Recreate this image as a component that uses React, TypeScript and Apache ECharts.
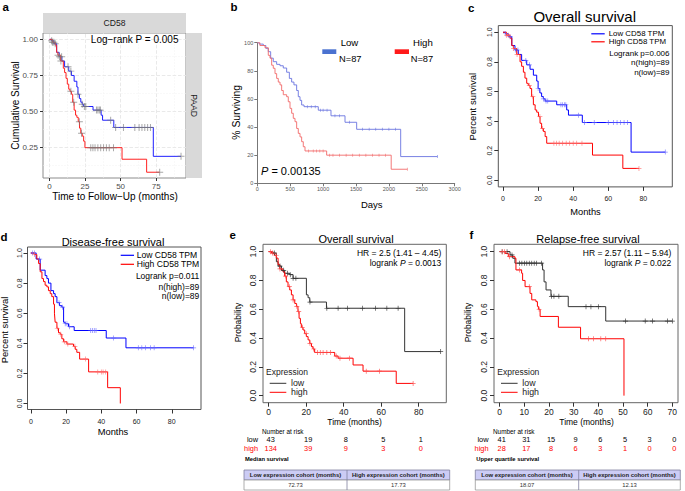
import React, { useEffect, useRef } from "react";
import * as echarts from "echarts";

const FONT = '"Liberation Sans", Arial, Helvetica, sans-serif';

// ---------- Panel a & c : TCGA PAAD overall survival (months, proportion) ----------
const tcgaLow = [[0,1],[1.5,0.99],[3,0.97],[5,0.91],[6.8,0.88],[8.7,0.85],[10.6,0.81],[13.5,0.78],[15.4,0.75],[17.3,0.71],[19.2,0.67],[20,0.62],[21,0.59],[22,0.565],[23,0.55],[24,0.535],[30.6,0.51],[36.3,0.475],[37.3,0.44],[45.2,0.39],[73,0.19],[92.5,0.19]];
const tcgaHigh = [[0,1],[2,0.98],[4,0.96],[5,0.91],[5.9,0.89],[7.8,0.85],[9.7,0.8],[10.6,0.77],[11.6,0.73],[12.5,0.69],[13.5,0.655],[14.4,0.64],[15.4,0.62],[16.3,0.565],[17.3,0.51],[18.3,0.475],[19.2,0.46],[20.2,0.43],[21.1,0.385],[22,0.35],[23,0.33],[24,0.295],[24.9,0.25],[51,0.17],[68.3,0.08],[77.5,0.08]];
const tcgaLowCens = [1.5,4,7,8.5,13,15,20,23,24.5,25.5,33,34,35,35.8,43,46.5,52,60,63,65,67,69,71,92.5];
const tcgaHighCens = [2,3,6,8,15,17,21,22.5,29,30.5,32,34,36,38,40,42,45,77.5];

// ---------- Panel b : days, % surviving ----------
const bLow = [[0,100],[30,99],[91,98],[130,96],[167,93.6],[203,89],[243,86.5],[294,84.6],[345,83.6],[395,82],[446,79],[487,74.6],[522,72],[557,70],[598,66],[623,61.6],[649,59],[674,55.7],[710,54.5],[927,52],[1120,48],[1333,43.4],[1510,38.4],[2179,19],[2737,19]];
const bHigh = [[0,100],[40,98],[117,96.4],[167,91],[193,89],[218,84],[243,81.8],[269,78],[294,74.6],[319,72],[345,70],[370,66],[395,63],[446,61.6],[471,58],[497,53.3],[522,49.8],[547,46.2],[573,43.8],[598,39],[623,35.5],[649,33],[674,29.6],[699,26],[725,23],[1054,20],[2035,10],[2280,10]];
const bLowCens = [760,820,880,960,1000,1060,1180,1250,1400,1600,1700,1800,1900,2000,2100,2737];
const bHighCens = [780,850,900,950,1000,1100,1150,1250,1350,1450,1550,1650,1750,1850,1950,2280];

// ---------- Panel d : disease-free survival ----------
const dLow = [[0,1],[3,0.96],[5.3,0.886],[8.1,0.85],[9.1,0.83],[10,0.8],[11.4,0.75],[12.9,0.73],[13.8,0.71],[14.8,0.67],[16.3,0.65],[17.6,0.64],[18.6,0.54],[19.5,0.53],[21.4,0.51],[24.6,0.485],[42.8,0.435],[54,0.37],[92.4,0.37]];
const dHigh = [[0,1],[1.9,0.99],[3.4,0.96],[4.4,0.93],[5.3,0.875],[6.3,0.83],[7.2,0.81],[8.1,0.786],[9.1,0.775],[10,0.75],[11,0.73],[11.9,0.71],[12.9,0.66],[13.4,0.6],[13.8,0.54],[14.8,0.5],[15.7,0.47],[16.7,0.46],[17.6,0.43],[18.6,0.41],[20.5,0.395],[24.2,0.38],[25.2,0.36],[26.1,0.34],[27.7,0.295],[32.8,0.21],[43.6,0.105],[50.8,0]];
const dLowCens = [1,2,5,16,18,19.5,20.5,22,34,35,36,37,47,61,63,65,68,70,92.4];
const dHighCens = [2,15,17,19,21,25,31,38,40,41,42.5];

// ---------- Panel e : overall survival (KM plotter) ----------
const eLow = [[0,1],[2.3,0.99],[4.1,0.93],[5,0.9],[6.8,0.87],[8.5,0.85],[11.2,0.84],[13,0.815],[20.1,0.7],[21,0.68],[21.9,0.65],[30.8,0.607],[72.5,0.306],[91.7,0.306]];
const eHigh = [[0,1],[1.5,0.99],[3,0.975],[4.1,0.955],[5,0.91],[5.9,0.88],[7.6,0.86],[8.5,0.83],[9.4,0.79],[10.3,0.757],[11.2,0.734],[12.1,0.7],[13,0.665],[13.9,0.64],[14.8,0.62],[15.6,0.583],[16.2,0.537],[16.9,0.5],[17.4,0.475],[18.3,0.456],[19.2,0.43],[20.1,0.41],[21,0.387],[21.9,0.363],[22.8,0.34],[23.6,0.324],[24.5,0.3],[35.2,0.275],[37,0.26],[45,0.213],[50.3,0.17],[68,0.085],[77,0.085]];
const eLowCens = [3,6,8,10,11.5,13,14.5,22,31,37,42,50,57,63,69,91.7];
const eHighCens = [1,2,4,6,9,11,13,15,16,18,20,22,24,26,27.5,29,31,33,36,38,43,52,59,77];
const riskTimesE = [0,20,40,60,80];
const riskLowE = [43,19,8,5,1];
const riskHighE = [134,39,9,3,0];
const medianE = ["72.73","17.73"];

// ---------- Panel f : relapse-free survival ----------
const fLow = [[0,1],[4.2,0.977],[5.3,0.954],[6.2,0.92],[17.4,0.873],[18,0.79],[18.8,0.734],[20.8,0.69],[27.8,0.618],[43,0.518],[70,0.518]];
const fHigh = [[0,1],[2.2,0.988],[3.5,0.965],[6.2,0.954],[6.6,0.873],[8.9,0.85],[9.3,0.8],[10.3,0.757],[12.3,0.71],[13,0.665],[14.7,0.653],[15.3,0.62],[15.7,0.6],[16.4,0.55],[23.8,0.475],[32.8,0.395],[50.4,0]];
const fLowCens = [1,3,5,8,9,10,11,12,13,14,15,17,21,22,24,35,37,40,51,59,62,68,70];
const fHighCens = [1,2,4,8,12,16,36,38,41,43];
const riskTimesF = [0,10,20,30,40,50,60,70];
const riskLowF = [41,31,15,9,6,5,3,0];
const riskHighF = [28,17,8,6,3,1,0,0];
const quartileF = ["18.07","12.13"];
const tableCols = ["Low expression cohort (months)","High expression cohort (months)"];

// ---------- ticks ----------
const ticksAx = [0,25,50,75];
const ticksAy = [0.25,0.5,0.75,1];
const ticksBx = [0,500,1000,1500,2000,2500,3000];
const ticksBy = [0,20,40,60,80,100];
const ticks01 = [0,0.2,0.4,0.6,0.8,1];
const ticks80 = [0,20,40,60,80];
const ticks70 = [0,10,20,30,40,50,60,70];

const PLUS = "path://M4.3,0H5.7V4.3H10V5.7H5.7V10H4.3V5.7H0V4.3H4.3Z";
const VTICK = "path://M0,0H1V10H0Z";

function survAt(curve: number[][], t: number) {
  let s = curve[0][1];
  for (const p of curve) { if (p[0] <= t) s = p[1]; else break; }
  return s;
}

function curve(gi: number, data: number[][], color: string, width = 1, extra: any = {}) {
  return { type: "line", xAxisIndex: gi, yAxisIndex: gi, data, step: "end", showSymbol: false, symbol: "none", lineStyle: { color, width }, silent: true, z: 2, ...extra };
}
function censor(gi: number, c: number[][], times: number[], color: string, symbol: string, size: any, opacity = 1) {
  return { type: "scatter", xAxisIndex: gi, yAxisIndex: gi, data: times.map((t) => [t, survAt(c, t)]), symbol, symbolSize: size, itemStyle: { color, opacity }, silent: true, z: 3 };
}

const plain = (v: number) => String(v);

function axis(gi: number, min: number, max: number, ticks: number[], o: any) {
  return {
    gridIndex: gi, type: "value", min, max,
    axisLine: { show: !!o.line, onZero: false, lineStyle: { color: o.lineColor || "#333", width: 1 } },
    axisTick: { show: true, length: o.tickLen ?? 4, customValues: ticks, lineStyle: { color: o.tickColor || "#333", width: 1 } },
    axisLabel: { customValues: ticks, fontSize: o.fs, color: o.color || "#222", margin: o.margin, fontFamily: FONT, rotate: o.rotate || 0, formatter: o.fmt || plain },
    splitLine: { show: false },
  };
}

function txt(x: number, y: number, text: string, o: any = {}) {
  const st: any = {
    text, fontSize: o.fs || 10, fontFamily: o.ff || FONT, fontWeight: o.fw || "normal", fill: o.color || "#000",
    align: o.align || "left", textAlign: o.align || "left", verticalAlign: "middle", textVerticalAlign: "middle",
  };
  if (o.rich) st.rich = o.rich;
  return { type: "text", x, y, rotation: o.rot || 0, silent: true, z: 10, style: st };
}
function ln(x1: number, y1: number, x2: number, y2: number, stroke: string, w = 1) {
  return { type: "line", silent: true, z: 10, shape: { x1, y1, x2, y2 }, style: { stroke, lineWidth: w } };
}
function rect(x: number, y: number, w: number, h: number, fill: string, stroke?: string) {
  return { type: "rect", silent: true, z: 9, shape: { x, y, width: w, height: h }, style: { fill, stroke: stroke || "none", lineWidth: stroke ? 0.8 : 0 } };
}

function buildOption() {
  const f1 = (v: number) => v.toFixed(1);
  const f2 = (v: number) => v.toFixed(2);
  const gridLines: any[] = [];
  [0, 25, 50, 75].forEach((v) => gridLines.push({ xAxis: v, lineStyle: { color: "#e6e6e6", width: 0.9 } }));
  [12.5, 37.5, 62.5, 87.5].forEach((v) => gridLines.push({ xAxis: v, lineStyle: { color: "#f2f2f2", width: 0.5 } }));
  [0.25, 0.5, 0.75, 1].forEach((v) => gridLines.push({ yAxis: v, lineStyle: { color: "#e6e6e6", width: 0.9 } }));
  [0.125, 0.375, 0.625, 0.875].forEach((v) => gridLines.push({ yAxis: v, lineStyle: { color: "#f2f2f2", width: 0.5 } }));

  const R = { tickLen: 4, tickColor: "#333" };
  return {
    animation: false,
    backgroundColor: "#fff",
    grid: [
      { left: 43, top: 33, width: 143, height: 145, show: true, borderColor: "#8c8c8c", borderWidth: 1, backgroundColor: "#fff" },
      { left: 257.3, top: 42.7, width: 197.4, height: 140.6, show: false },
      { left: 498.3, top: 25.6, width: 174, height: 161.3, show: true, borderColor: "#555", borderWidth: 1 },
      { left: 27.5, top: 247, width: 173.5, height: 162.5, show: true, borderColor: "#555", borderWidth: 1 },
      { left: 263, top: 244.3, width: 183.3, height: 158.4, show: true, borderColor: "#666", borderWidth: 1 },
      { left: 494, top: 244.3, width: 184, height: 158.4, show: true, borderColor: "#666", borderWidth: 1 },
    ],
    xAxis: [
      axis(0, -4.6, 96, ticksAx, { fs: 8, color: "#4d4d4d", margin: 4, tickLen: 3, tickColor: "#333" }),
      axis(1, 0, 3000, ticksBx, { fs: 5.5, color: "#555", margin: 3, tickLen: 3, line: true, lineColor: "#777", tickColor: "#777" }),
      axis(2, -2.7, 96.5, ticks80, { ...R, fs: 7, margin: 8 }),
      axis(3, -1.9, 96.6, ticks80, { ...R, fs: 7, margin: 8 }),
      axis(4, -3.04, 94.7, ticks80, { ...R, fs: 8.5, margin: 5 }),
      axis(5, -2.3, 72.3, ticks70, { ...R, fs: 8.5, margin: 5 }),
    ],
    yAxis: [
      axis(0, 0.04, 1.044, ticksAy, { fs: 8, color: "#4d4d4d", margin: 5, tickLen: 3, tickColor: "#333", fmt: f2 }),
      axis(1, 0, 100, ticksBy, { fs: 5.5, color: "#555", margin: 4, tickLen: 3, line: true, lineColor: "#777", tickColor: "#777" }),
      axis(2, -0.045, 1.045, ticks01, { ...R, fs: 7, margin: 5, rotate: 90, fmt: f1 }),
      axis(3, -0.04, 1.04, ticks01, { ...R, fs: 7, margin: 5, rotate: 90, fmt: f1 }),
      axis(4, -0.049, 1.051, ticks01, { ...R, fs: 8.5, margin: 6, rotate: 90, fmt: f1 }),
      axis(5, -0.049, 1.051, ticks01, { ...R, fs: 8.5, margin: 6, rotate: 90, fmt: f1 }),
    ],
    series: [
      // a
      curve(0, tcgaLow, "#1f1fff", 1, { markLine: { silent: true, z: 1, symbol: ["none", "none"], label: { show: false }, data: gridLines } }),
      curve(0, tcgaHigh, "#ff2020", 1),
      censor(0, tcgaLow, tcgaLowCens, "#7a7a7a", PLUS, 7, 0.65),
      censor(0, tcgaHigh, tcgaHighCens, "#7a7a7a", PLUS, 7, 0.65),
      // b
      curve(1, bLow, "#6a74e0", 0.9),
      curve(1, bHigh, "#f26a6a", 0.9),
      censor(1, bLow, bLowCens, "#6a74e0", VTICK, [0.7, 3], 0.8),
      censor(1, bHigh, bHighCens, "#f26a6a", VTICK, [0.7, 3], 0.8),
      // c
      curve(2, tcgaLow, "#0000ff", 1),
      curve(2, tcgaHigh, "#ff0000", 1),
      censor(2, tcgaLow, tcgaLowCens, "#6666ff", PLUS, 5, 0.8),
      censor(2, tcgaHigh, tcgaHighCens, "#ff6666", PLUS, 5, 0.8),
      // d
      curve(3, dLow, "#0000ff", 1),
      curve(3, dHigh, "#ff0000", 1),
      censor(3, dLow, dLowCens, "#6666ff", PLUS, 5, 0.8),
      censor(3, dHigh, dHighCens, "#ff6666", PLUS, 5, 0.8),
      // e
      curve(4, eLow, "#333333", 1),
      curve(4, eHigh, "#ff0000", 1),
      censor(4, eLow, eLowCens, "#333333", PLUS, 5, 0.9),
      censor(4, eHigh, eHighCens, "#ff4d4d", PLUS, 5, 0.9),
      // f
      curve(5, fLow, "#333333", 1),
      curve(5, fHigh, "#ff0000", 1),
      censor(5, fLow, fLowCens, "#333333", PLUS, 5, 0.9),
      censor(5, fHigh, fHighCens, "#ff4d4d", PLUS, 5, 0.9),
    ],
  };
}

function buildGraphics(chart: any) {
  const g: any[] = [];
  const P2 = Math.PI / 2;
  // panel letters
  [["a", 2.5, 6.5], ["b", 230.5, 6.5], ["c", 468, 8], ["d", 0.5, 236.5], ["e", 229.5, 234.5], ["f", 469.5, 234.5]].forEach((l: any) =>
    g.push(txt(l[1], l[2], l[0], { fs: 11.5, fw: "bold" })));

  // ---- a
  g.push(rect(43, 13, 143, 20, "#d9d9d9"));
  g.push(txt(114.5, 23, "CD58", { fs: 8.6, align: "center", color: "#1a1a1a" }));
  g.push(rect(186, 33, 16, 145, "#d9d9d9"));
  g.push(txt(194, 105.5, "PAAD", { fs: 8.6, align: "center", color: "#1a1a1a", rot: -P2 }));
  g.push(txt(178.5, 39.5, "Log\u2212rank P = 0.005", { fs: 10, align: "right" }));
  g.push(txt(15, 105.5, "Cumulative Survival", { fs: 10, align: "center", rot: P2 }));
  g.push(txt(115, 196.5, "Time to Follow\u2212Up (months)", { fs: 10, align: "center" }));

  // ---- b
  g.push(txt(340.7, 42.5, "Low", { fs: 9.6 }));
  g.push(rect(322.3, 49.3, 14, 4.7, "#4a72d0"));
  g.push(txt(339, 59, "N=87", { fs: 9.3 }));
  g.push(txt(413, 42.5, "High", { fs: 9.6 }));
  g.push(rect(394.7, 49.3, 14.3, 4.7, "#ff1a1a"));
  g.push(txt(410.7, 59, "N=87", { fs: 9.3 }));
  g.push(txt(261, 171, "{i|P} = 0.00135", { fs: 11, rich: { i: { fontStyle: "italic", fontSize: 11, fontFamily: FONT, fill: "#000" } } }));
  g.push(txt(236.3, 112.3, "% Surviving", { fs: 10.4, align: "center", rot: P2 }));
  g.push(txt(371.8, 204.3, "Days", { fs: 9.5, align: "center" }));

  // ---- c
  g.push(txt(584.7, 16.7, "Overall survival", { fs: 15, align: "center" }));
  g.push(ln(591.3, 33.8, 604.7, 33.8, "#0000ff", 1.2));
  g.push(ln(591.3, 41.8, 604.7, 41.8, "#ff0000", 1.2));
  g.push(txt(608.7, 33.8, "Low CD58 TPM", { fs: 7.9 }));
  g.push(txt(608.7, 41.8, "High CD58 TPM", { fs: 7.9 }));
  g.push(txt(669.5, 53.3, "Logrank p=0.006", { fs: 8, align: "right" }));
  g.push(txt(669.5, 62.7, "n(high)=89", { fs: 8, align: "right" }));
  g.push(txt(669.5, 72, "n(low)=89", { fs: 8, align: "right" }));
  g.push(txt(472, 106.7, "Percent survival", { fs: 9.5, align: "center", rot: P2 }));
  g.push(txt(585.5, 212, "Months", { fs: 9.3, align: "center" }));

  // ---- d
  g.push(txt(113, 241.7, "Disease-free survival", { fs: 11, align: "center" }));
  g.push(ln(120.7, 255.3, 134, 255.3, "#0000ff", 1.2));
  g.push(ln(120.7, 264.3, 134, 264.3, "#ff0000", 1.2));
  g.push(txt(136.7, 255.3, "Low CD58 TPM", { fs: 8.6 }));
  g.push(txt(136.7, 264.3, "High CD58 TPM", { fs: 8.6 }));
  g.push(txt(199.3, 275.7, "Logrank p=0.011", { fs: 8.5, align: "right" }));
  g.push(txt(199.3, 286.7, "n(high)=89", { fs: 8.5, align: "right" }));
  g.push(txt(199.3, 296, "n(low)=89", { fs: 8.5, align: "right" }));
  g.push(txt(4.5, 330, "Percent survival", { fs: 9.4, align: "center", rot: P2 }));
  g.push(txt(113, 432, "Months", { fs: 9.3, align: "center" }));

  // ---- e & f (shared layout)
  const italic = { i: { fontStyle: "italic", fontSize: 8.5, fontFamily: FONT, fill: "#000" } };
  const kmPanel = (o: any) => {
    g.push(txt(o.cx, 239.3, o.title, { fs: 11, align: "center" }));
    g.push(txt(o.hrX, 253.3, o.hr, { fs: 8.5, align: "right" }));
    g.push(txt(o.hrX, 263.3, "logrank {i|P} = " + o.p, { fs: 8.5, align: "right", rich: italic }));
    g.push(txt(o.legX, 371.7, "Expression", { fs: 8.5, color: "#222" }));
    g.push(ln(o.legX + 3.7, 383.3, o.legX + 20.3, 383.3, "#333", 1));
    g.push(ln(o.legX + 3.7, 392.3, o.legX + 20.3, 392.3, "#ff0000", 1));
    g.push(txt(o.legX + 25, 383.3, "low", { fs: 8.8, color: "#222" }));
    g.push(txt(o.legX + 25, 392.3, "high", { fs: 8.8, color: "#222" }));
    g.push(txt(o.yTitleX, 322.5, "Probability", { fs: 8.5, align: "center", rot: P2 }));
    g.push(txt(o.cx - 1.5, 422.3, "Time (months)", { fs: 8.5, align: "center" }));
    g.push(txt(o.narX, 431, "Number at risk", { fs: 6.4 }));
    g.push(txt(o.rowX, 439, "low", { fs: 7.4, align: "right" }));
    g.push(txt(o.rowX, 448, "high", { fs: 7.4, align: "right", color: "#ff0000" }));
    o.times.forEach((t: number, i: number) => {
      const x = chart.convertToPixel({ xAxisIndex: o.axis }, t) as number;
      g.push(txt(x + 2, 439, String(o.low[i]), { fs: 7.4, align: "center" }));
      g.push(txt(x + 2, 448, String(o.high[i]), { fs: 7.4, align: "center", color: "#ff0000" }));
    });
    g.push(txt(o.tx0 + 1, 459.3, o.tableTitle, { fs: 5.8, fw: "bold" }));
    const w = o.tx1 - o.tx0;
    g.push(rect(o.tx0, 470, w, 10, "#ccccf5", "#8080a0"));
    g.push(rect(o.tx0, 480, w, 10, "#ffffff", "#999999"));
    g.push(ln(o.tdiv, 470, o.tdiv, 490, "#8080a0", 0.8));
    const c1 = (o.tx0 + o.tdiv) / 2, c2 = (o.tdiv + o.tx1) / 2;
    g.push(txt(c1, 475, tableCols[0], { fs: 5.9, fw: "bold", align: "center", color: "#222" }));
    g.push(txt(c2, 475, tableCols[1], { fs: 5.9, fw: "bold", align: "center", color: "#222" }));
    g.push(txt(c1, 485.2, o.vals[0], { fs: 5.9, align: "center", color: "#333" }));
    g.push(txt(c2, 485.2, o.vals[1], { fs: 5.9, align: "center", color: "#333" }));
  };
  kmPanel({ axis: 4, cx: 356, title: "Overall survival", hrX: 441.3, hr: "HR = 2.5 (1.41 \u2013 4.45)", p: "0.0013", legX: 266, yTitleX: 238, narX: 262, rowX: 258,
    times: riskTimesE, low: riskLowE, high: riskHighE, tableTitle: "Median survival", tx0: 244, tx1: 449.7, tdiv: 347, vals: medianE });
  kmPanel({ axis: 5, cx: 588, title: "Relapse-free survival", hrX: 671.3, hr: "HR = 2.57 (1.11 \u2013 5.94)", p: "0.022", legX: 497.3, yTitleX: 468, narX: 493, rowX: 488.5,
    times: riskTimesF, low: riskLowF, high: riskHighF, tableTitle: "Upper quartile survival", tx0: 475.3, tx1: 680.3, tdiv: 578.7, vals: quartileF });
  return g;
}

export default function App() {
  const ref = useRef<HTMLDivElement>(null);
  useEffect(() => {
    const chart = echarts.init(ref.current as HTMLDivElement, null, { renderer: "svg", width: 685, height: 491 });
    chart.setOption(buildOption() as any);
    chart.setOption({ graphic: { elements: buildGraphics(chart) } } as any);
    return () => chart.dispose();
  }, []);
  return <div ref={ref} style={{ position: "absolute", left: 0, top: 0, width: 685, height: 491, background: "#fff" }} />;
}
